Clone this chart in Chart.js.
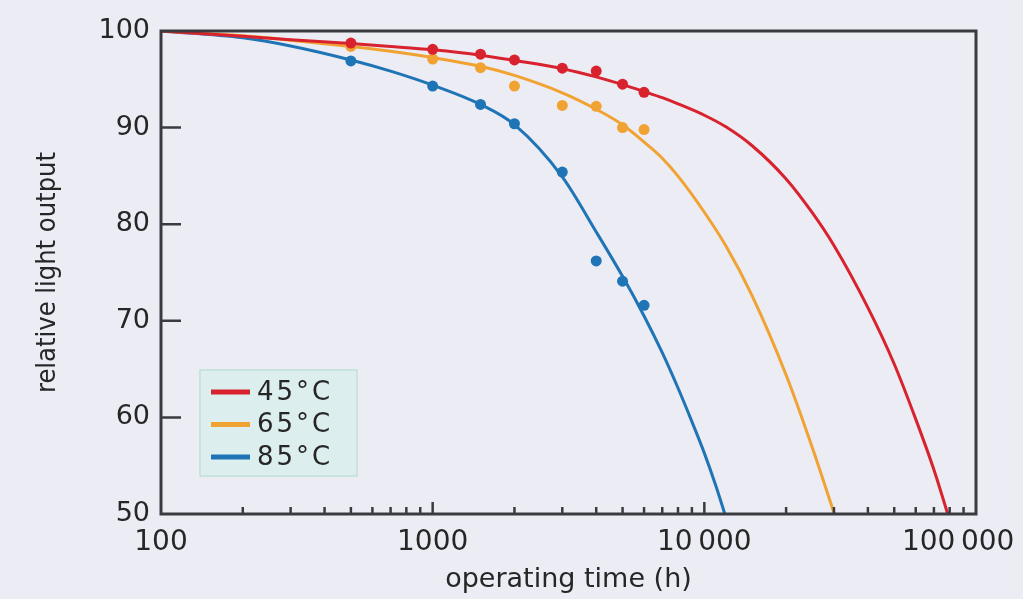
<!DOCTYPE html>
<html><head><meta charset="utf-8">
<script src="https://cdn.jsdelivr.net/npm/chart.js@4.4.1/dist/chart.umd.min.js"></script>
<style>html,body{margin:0;padding:0;background:#ECECF4;overflow:hidden}#wrap{width:1023px;height:599px}</style>
</head><body><div id="wrap"><canvas id="c" width="1023" height="599"></canvas></div>
<script>
// ---- data ----
const seriesLabels = ['45\u00B0C', '65\u00B0C', '85\u00B0C'];
const seriesColors = ['#D8232F', '#F0A332', '#1F74B6'];

const measTimes = [500, 1000, 1500, 2000, 3000, 4000, 5000, 6000];
const meas45 = [98.75, 98.1, 97.6, 97.0, 96.15, 95.85, 94.5, 93.65];
const meas65 = [98.4, 97.1, 96.2, 94.3, 92.3, 92.2, 90.0, 89.8];
const meas85 = [96.9, 94.3, 92.4, 90.4, 85.4, 76.2, 74.1, 71.6];

const fitTimes45 = [100, 200, 300, 500, 700, 1000, 1500, 2000, 3000, 4000, 5000, 6000, 7000, 8000, 10000, 12000, 15000, 20000, 25000, 30000, 40000, 50000, 60000, 70000, 78700];
const fit45 = [100, 99.45, 99.1, 98.7, 98.4, 98.05, 97.5, 96.95, 96.1, 95.25, 94.45, 93.73, 93.1, 92.46, 91.28, 90.08, 88.12, 84.68, 81.16, 77.79, 71.36, 65.53, 59.82, 54.58, 50.0];

const fitTimes65 = [100, 200, 300, 500, 700, 1000, 1500, 2000, 3000, 4000, 5000, 6000, 7000, 8000, 10000, 12000, 15000, 20000, 25000, 30100];
const fit65 = [100, 99.5, 99.05, 98.4, 97.9, 97.25, 96.35, 95.4, 93.6, 91.9, 90.29, 88.5, 86.83, 84.97, 81.24, 77.76, 72.58, 64.39, 56.83, 50.0];

const fitTimes85 = [100, 200, 300, 500, 700, 1000, 1500, 2000, 3000, 4000, 5000, 6000, 7000, 8000, 9000, 10000, 11000, 11900];
const fit85 = [100, 99.3, 98.45, 97.0, 95.85, 94.4, 92.4, 90.3, 84.9, 79.2, 74.6, 70.5, 66.7, 63.04, 59.56, 56.3, 53.0, 50.0];

const yTicks = [50, 60, 70, 80, 90, 100];
const xMajorTicks = [100, 1000, 10000, 100000];
const xTickLabels = ['100', '1000', '10\u2009000', '100\u2009000    '];
const xMinorTicks = [200, 300, 400, 500, 600, 700, 800, 900,
  2000, 3000, 4000, 5000, 6000, 7000, 8000, 9000,
  20000, 30000, 40000, 50000, 60000, 70000, 80000, 90000];
const xTitle = 'operating time (h)';
const yTitle = 'relative light output';

// ---- helpers ----
const pts = (xs, ys) => xs.map((t, i) => ({x: t, y: ys[i]}));
const fitSets = [[fitTimes45, fit45], [fitTimes65, fit65], [fitTimes85, fit85]];
const measSets = [meas45, meas65, meas85];

const datasets = [];
fitSets.forEach((s, i) => datasets.push({
  label: seriesLabels[i], isFit: true, data: pts(s[0], s[1]),
  borderColor: seriesColors[i], backgroundColor: seriesColors[i],
  borderWidth: 3, pointRadius: 0, showLine: true, cubicInterpolationMode: 'monotone', order: 2
}));
measSets.forEach((m, i) => datasets.push({
  label: seriesLabels[i] + ' measured', isFit: false, data: pts(measTimes, m),
  borderColor: seriesColors[i], backgroundColor: seriesColors[i],
  borderWidth: 0, pointRadius: 5.5, showLine: false, order: 1
}));

const INK = '#3a3a40';
const TXT = '#262626';
const BG = '#ECECF4';

const framePlugin = {
  id: 'frame',
  beforeDraw(chart) {
    const ctx = chart.ctx;
    ctx.save(); ctx.fillStyle = BG; ctx.fillRect(0, 0, chart.width, chart.height); ctx.restore();
  },
  afterDatasetsDraw(chart) {
    const {ctx, chartArea: a, scales: {x, y}} = chart;
    ctx.save();
    ctx.strokeStyle = INK;
    ctx.lineWidth = 3;
    ctx.strokeRect(a.left, a.top, a.right - a.left, a.bottom - a.top);
    ctx.lineWidth = 2.5;
    ctx.beginPath();
    yTicks.forEach(v => {
      if (v > y.min && v < y.max) { const py = y.getPixelForValue(v); ctx.moveTo(a.left, py); ctx.lineTo(a.left + 20, py); }
    });
    xMinorTicks.forEach(v => { const px = x.getPixelForValue(v); ctx.moveTo(px, a.bottom); ctx.lineTo(px, a.bottom - 7); });
    xMajorTicks.forEach(v => {
      if (v > x.min && v < x.max) { const px = x.getPixelForValue(v); ctx.moveTo(px, a.bottom); ctx.lineTo(px, a.bottom - 12); }
    });
    ctx.stroke();

    // legend box
    const bx = 200, by = 370, bw = 157, bh = 106;
    ctx.fillStyle = '#DCEFEE';
    ctx.strokeStyle = '#BFE0DC';
    ctx.lineWidth = 1.5;
    ctx.fillRect(bx, by, bw, bh);
    ctx.strokeRect(bx, by, bw, bh);
    const fits = chart.data.datasets.filter(d => d.isFit);
    ctx.font = '26px "DejaVu Sans", sans-serif';
    ctx.textBaseline = 'middle';
    ctx.textAlign = 'left';
    try { ctx.letterSpacing = '3px'; } catch (e) {}
    fits.forEach((d, i) => {
      const ry = by + 22 + i * 32.5;
      ctx.strokeStyle = d.borderColor; ctx.lineWidth = 5;
      ctx.beginPath(); ctx.moveTo(bx + 11, ry); ctx.lineTo(bx + 50, ry); ctx.stroke();
      ctx.fillStyle = TXT;
      ctx.fillText(d.label, bx + 57, ry + 1);
    });
    ctx.restore();
  }
};

new Chart(document.getElementById('c'), {
  type: 'scatter',
  data: {datasets},
  plugins: [framePlugin],
  options: {
    responsive: false, animation: false, devicePixelRatio: 1,
    layout: {padding: {top: 31, right: 47, left: 0, bottom: 0}},
    plugins: {legend: {display: false}, tooltip: {enabled: false}},
    scales: {
      x: {
        type: 'logarithmic', min: 100, max: 100000,
        grid: {display: false, drawTicks: false}, border: {display: false},
        afterBuildTicks: s => { s.ticks = xMajorTicks.map(v => ({value: v, major: true})); },
        afterFit: s => { s.height = 85; s.paddingLeft = 0; s.paddingRight = 0; },
        ticks: {
          autoSkip: false, maxRotation: 0, padding: 12, color: TXT,
          font: {family: '"DejaVu Sans", sans-serif', size: 28},
          callback: (v) => { const i = xMajorTicks.indexOf(v); return i >= 0 ? xTickLabels[i] : ''; }
        },
        title: {display: true, text: xTitle, color: TXT, padding: {top: 0, bottom: 3},
          font: {family: '"DejaVu Sans", sans-serif', size: 27}}
      },
      y: {
        type: 'linear', min: 50, max: 100,
        grid: {display: false, drawTicks: false}, border: {display: false},
        afterBuildTicks: s => { s.ticks = yTicks.map(v => ({value: v})); },
        afterFit: s => { s.width = 161; s.paddingTop = 0; s.paddingBottom = 0; },
        ticks: {padding: 11, color: TXT, font: {family: '"DejaVu Sans", sans-serif', size: 27}},
        title: {display: true, text: yTitle, color: TXT, padding: {top: 32, bottom: 0},
          font: {family: '"DejaVu Sans Condensed", "Liberation Sans Narrow", "DejaVu Sans", sans-serif', size: 27}}
      }
    }
  }
});
</script></body></html>
